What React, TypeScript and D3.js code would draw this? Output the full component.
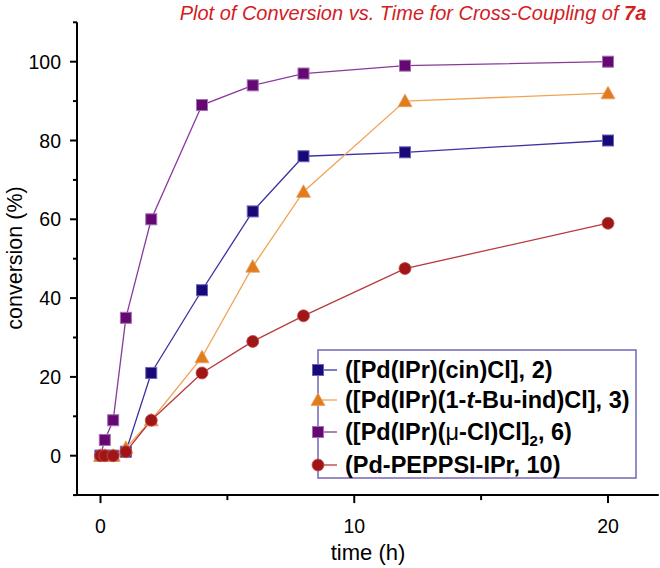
import React from "react";
import * as d3 from "d3";

const times = [0, 0.17, 0.5, 1, 2, 4, 6, 8, 12, 20];
const cinValues = [0, 0, 0, 1, 21, 42, 62, 76, 77, 80];
const indValues = [0, 0, 0, 2, 9, 25, 48, 67, 90, 92];
const dimerValues = [0, 4, 9, 35, 60, 89, 94, 97, 99, 100];
const peppsiValues = [0, 0, 0, 1, 9, 21, 29, 35.5, 47.5, 59];
const xMajorTicks = [0, 10, 20];
const xMinorTicks = [5, 15];
const yMajorTicks = [0, 20, 40, 60, 80, 100];
const yMinorTicks = [-10, 10, 30, 50, 70, 90, 110];

type Series = {
  values: number[];
  marker: "square" | "triangle" | "circle";
  fill: string;
  stroke: string;
  line: string;
};

const series: Series[] = [
  { values: cinValues, marker: "square", fill: "#170a78", stroke: "#6a64b8", line: "#3b33a0" },
  { values: indValues, marker: "triangle", fill: "#e07b1e", stroke: "#eea060", line: "#f0a456" },
  { values: dimerValues, marker: "square", fill: "#650872", stroke: "#a070b0", line: "#8a3a9c" },
  { values: peppsiValues, marker: "circle", fill: "#a01616", stroke: "#c05050", line: "#b8393c" },
];
const drawOrder = [2, 0, 1, 3];

function Marker({ type, x, y, fill, stroke }: { type: string; x: number; y: number; fill: string; stroke: string }) {
  if (type === "square") {
    return <rect x={x - 5.5} y={y - 5.5} width={11} height={11} fill={fill} stroke={stroke} strokeWidth={1} />;
  }
  if (type === "triangle") {
    const s = 7;
    const pts = `${x},${y - s} ${x + s},${y + s * 0.8} ${x - s},${y + s * 0.8}`;
    return <polygon points={pts} fill={fill} stroke={stroke} strokeWidth={0.8} />;
  }
  return <circle cx={x} cy={y} r={6} fill={fill} stroke={stroke} strokeWidth={0.8} />;
}

export default function App() {
  const W = 660, H = 568;
  const x = d3.scaleLinear().domain([0, 20]).range([100.5, 608]);
  const y = d3.scaleLinear().domain([0, 100]).range([455.7, 61.7]);
  const x0 = x(-1), x1 = x(22);
  const yb = y(-10), yt = y(110);
  const line = d3.line<number>().x((_, i) => x(times[i])).y((d) => y(d));
  const font = "'Liberation Sans', Arial, sans-serif";

  const legendLabels = [
    <>([Pd(IPr)(cin)Cl], 2)</>,
    <>([Pd(IPr)(1-<tspan fontStyle="italic">t</tspan>-Bu-ind)Cl], 3)</>,
    <>([Pd(IPr)(<tspan fontWeight="normal">μ</tspan>-Cl)Cl]<tspan dy={6} fontSize={15}>2</tspan><tspan dy={-6}>, 6)</tspan></>,
    <>(Pd-PEPPSI-IPr, 10)</>,
  ];
  const legendY = [370, 400, 432, 465];

  return (
    <svg width={W} height={H} style={{ position: "absolute", left: 0, top: 0 }} fontFamily={font}>
      <rect width={W} height={H} fill="#fff" />
      <text x={413} y={20} textAnchor="middle" fill="#d3201f" fontSize={20} fontStyle="italic">
        Plot of Conversion vs. Time for Cross-Coupling of <tspan fontWeight="bold">7a</tspan>
      </text>

      <line x1={77} x2={77} y1={yt} y2={yb} stroke="#000" strokeWidth={2} />
      <line x1={x0} x2={x1} y1={yb} y2={yb} stroke="#000" strokeWidth={2} />
      {yMajorTicks.map((t) => (
        <g key={"ym" + t}>
          <line x1={70} x2={77} y1={y(t)} y2={y(t)} stroke="#000" strokeWidth={2} />
          <text x={61} y={y(t) + 7} textAnchor="end" fontSize={19.5}>{t}</text>
        </g>
      ))}
      {yMinorTicks.map((t) => (
        <line key={"yn" + t} x1={73} x2={77} y1={y(t)} y2={y(t)} stroke="#000" strokeWidth={2} />
      ))}
      {xMajorTicks.map((t) => (
        <g key={"xm" + t}>
          <line x1={x(t)} x2={x(t)} y1={yb} y2={yb + 8} stroke="#000" strokeWidth={2} />
          <text x={x(t)} y={533} textAnchor="middle" fontSize={19.5}>{t}</text>
        </g>
      ))}
      {xMinorTicks.map((t) => (
        <line key={"xn" + t} x1={x(t)} x2={x(t)} y1={yb} y2={yb + 5} stroke="#000" strokeWidth={2} />
      ))}
      <text x={368} y={560} textAnchor="middle" fontSize={22}>time (h)</text>
      <text transform={`translate(22,258) rotate(-90)`} textAnchor="middle" fontSize={21.5}>conversion (%)</text>

      {drawOrder.map((si) => (
        <path key={"l" + si} d={line(series[si].values) || ""} fill="none" stroke={series[si].line} strokeWidth={1.3} />
      ))}
      {drawOrder.map((si) => (
        <g key={"m" + si}>
          {series[si].values.map((v, i) => (
            <Marker key={i} type={series[si].marker} x={x(times[i])} y={y(v)} fill={series[si].fill} stroke={series[si].stroke} />
          ))}
        </g>
      ))}

      <rect x={318} y={350} width={318} height={128} fill="#fff" stroke="#7565b5" strokeWidth={1.5} />
      {series.map((s, i) => (
        <g key={"lg" + i}>
          <line x1={320} x2={337} y1={legendY[i]} y2={legendY[i]} stroke={s.line} strokeWidth={1.3} />
          <Marker type={s.marker} x={318} y={legendY[i]} fill={s.fill} stroke={s.stroke} />
          <text x={345} y={legendY[i] + 8} fontSize={23.5} fontWeight="bold">{legendLabels[i]}</text>
        </g>
      ))}
    </svg>
  );
}
